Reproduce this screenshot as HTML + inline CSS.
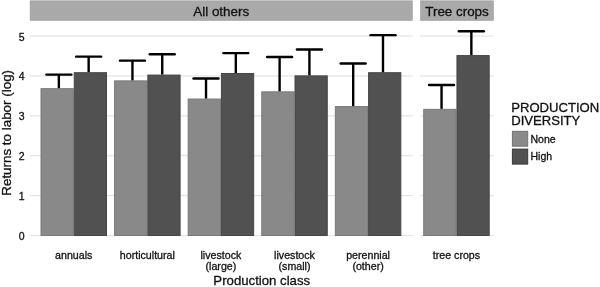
<!DOCTYPE html><html><head><meta charset="utf-8"><style>html,body{margin:0;padding:0;background:#fff;width:600px;height:287px;overflow:hidden}svg{display:block;will-change:transform}text{font-family:"Liberation Sans",sans-serif;fill:#111;stroke:#111;stroke-width:0.3}</style></head><body>
<svg width="600" height="287" viewBox="0 0 600 287">
<rect x="30.10" y="0.8" width="382.20" height="19.6" fill="#a9a9a9" stroke="#9c9c9c" stroke-width="0.6"/>
<rect x="420.60" y="0.8" width="72.80" height="19.6" fill="#a9a9a9" stroke="#9c9c9c" stroke-width="0.6"/>
<text x="221.20" y="15.8" font-size="13.4" text-anchor="middle">All others</text>
<text x="457.00" y="15.8" font-size="13.4" text-anchor="middle">Tree crops</text>
<rect x="29.8" y="234.90" width="382.80" height="1.2" fill="#e4e4e4"/>
<rect x="420.3" y="234.90" width="73.40" height="1.2" fill="#e4e4e4"/>
<rect x="29.8" y="195.01" width="382.80" height="1.2" fill="#e4e4e4"/>
<rect x="420.3" y="195.01" width="73.40" height="1.2" fill="#e4e4e4"/>
<rect x="29.8" y="155.12" width="382.80" height="1.2" fill="#e4e4e4"/>
<rect x="420.3" y="155.12" width="73.40" height="1.2" fill="#e4e4e4"/>
<rect x="29.8" y="115.23" width="382.80" height="1.2" fill="#e4e4e4"/>
<rect x="420.3" y="115.23" width="73.40" height="1.2" fill="#e4e4e4"/>
<rect x="29.8" y="75.34" width="382.80" height="1.2" fill="#e4e4e4"/>
<rect x="420.3" y="75.34" width="73.40" height="1.2" fill="#e4e4e4"/>
<rect x="29.8" y="35.45" width="382.80" height="1.2" fill="#e4e4e4"/>
<rect x="420.3" y="35.45" width="73.40" height="1.2" fill="#e4e4e4"/>
<rect x="41.00" y="88.65" width="32.25" height="146.85" fill="#898989" stroke="#7a7a7a" stroke-width="1"/>
<rect x="74.25" y="72.69" width="32.25" height="162.81" fill="#515151" stroke="#464646" stroke-width="1"/>
<rect x="114.59" y="80.87" width="32.25" height="154.63" fill="#898989" stroke="#7a7a7a" stroke-width="1"/>
<rect x="147.84" y="75.08" width="32.25" height="160.42" fill="#515151" stroke="#464646" stroke-width="1"/>
<rect x="188.17" y="99.02" width="32.25" height="136.48" fill="#898989" stroke="#7a7a7a" stroke-width="1"/>
<rect x="221.42" y="73.49" width="32.25" height="162.01" fill="#515151" stroke="#464646" stroke-width="1"/>
<rect x="261.76" y="91.84" width="32.25" height="143.66" fill="#898989" stroke="#7a7a7a" stroke-width="1"/>
<rect x="295.01" y="75.88" width="32.25" height="159.62" fill="#515151" stroke="#464646" stroke-width="1"/>
<rect x="335.34" y="106.56" width="32.25" height="128.94" fill="#898989" stroke="#7a7a7a" stroke-width="1"/>
<rect x="368.59" y="72.69" width="32.25" height="162.81" fill="#515151" stroke="#464646" stroke-width="1"/>
<rect x="423.70" y="109.35" width="32.25" height="126.15" fill="#898989" stroke="#7a7a7a" stroke-width="1"/>
<rect x="456.95" y="55.58" width="32.25" height="179.92" fill="#515151" stroke="#464646" stroke-width="1"/>
<path d="M46.35 74.58H71.35" stroke="#000" stroke-width="2.4" stroke-linecap="round" fill="none"/><path d="M58.85 74.58V88.15" stroke="#000" stroke-width="2.4" fill="none"/>
<path d="M76.15 56.67H101.15" stroke="#000" stroke-width="2.4" stroke-linecap="round" fill="none"/><path d="M88.65 56.67V72.19" stroke="#000" stroke-width="2.4" fill="none"/>
<path d="M119.94 60.66H144.94" stroke="#000" stroke-width="2.4" stroke-linecap="round" fill="none"/><path d="M132.44 60.66V80.37" stroke="#000" stroke-width="2.4" fill="none"/>
<path d="M149.74 54.28H174.74" stroke="#000" stroke-width="2.4" stroke-linecap="round" fill="none"/><path d="M162.24 54.28V74.58" stroke="#000" stroke-width="2.4" fill="none"/>
<path d="M193.52 78.57H218.52" stroke="#000" stroke-width="2.4" stroke-linecap="round" fill="none"/><path d="M206.02 78.57V98.52" stroke="#000" stroke-width="2.4" fill="none"/>
<path d="M223.32 53.08H248.32" stroke="#000" stroke-width="2.4" stroke-linecap="round" fill="none"/><path d="M235.82 53.08V72.99" stroke="#000" stroke-width="2.4" fill="none"/>
<path d="M267.11 57.07H292.11" stroke="#000" stroke-width="2.4" stroke-linecap="round" fill="none"/><path d="M279.61 57.07V91.34" stroke="#000" stroke-width="2.4" fill="none"/>
<path d="M296.91 49.49H321.91" stroke="#000" stroke-width="2.4" stroke-linecap="round" fill="none"/><path d="M309.41 49.49V75.38" stroke="#000" stroke-width="2.4" fill="none"/>
<path d="M340.69 63.45H365.69" stroke="#000" stroke-width="2.4" stroke-linecap="round" fill="none"/><path d="M353.19 63.45V106.06" stroke="#000" stroke-width="2.4" fill="none"/>
<path d="M370.49 35.17H395.49" stroke="#000" stroke-width="2.4" stroke-linecap="round" fill="none"/><path d="M382.99 35.17V72.19" stroke="#000" stroke-width="2.4" fill="none"/>
<path d="M429.05 84.96H454.05" stroke="#000" stroke-width="2.4" stroke-linecap="round" fill="none"/><path d="M441.55 84.96V108.85" stroke="#000" stroke-width="2.4" fill="none"/>
<path d="M458.85 31.18H483.85" stroke="#000" stroke-width="2.4" stroke-linecap="round" fill="none"/><path d="M471.35 31.18V55.08" stroke="#000" stroke-width="2.4" fill="none"/>
<text x="24.5" y="240.00" font-size="10.5" text-anchor="end">0</text>
<text x="24.5" y="200.11" font-size="10.5" text-anchor="end">1</text>
<text x="24.5" y="160.22" font-size="10.5" text-anchor="end">2</text>
<text x="24.5" y="120.33" font-size="10.5" text-anchor="end">3</text>
<text x="24.5" y="80.44" font-size="10.5" text-anchor="end">4</text>
<text x="24.5" y="40.55" font-size="10.5" text-anchor="end">5</text>
<text transform="translate(10.5 132.85) rotate(-90)" font-size="13.4" text-anchor="middle">Returns to labor (log)</text>
<text x="73.75" y="258.80" font-size="10.65" text-anchor="middle">annuals</text>
<text x="147.34" y="258.80" font-size="10.65" text-anchor="middle">horticultural</text>
<text x="220.92" y="258.80" font-size="10.65" text-anchor="middle">livestock</text>
<text x="220.92" y="270.30" font-size="10.65" text-anchor="middle">(large)</text>
<text x="294.51" y="258.80" font-size="10.65" text-anchor="middle">livestock</text>
<text x="294.51" y="270.30" font-size="10.65" text-anchor="middle">(small)</text>
<text x="368.09" y="258.80" font-size="10.65" text-anchor="middle">perennial</text>
<text x="368.09" y="270.30" font-size="10.65" text-anchor="middle">(other)</text>
<text x="456.45" y="258.80" font-size="10.65" text-anchor="middle">tree crops</text>
<text x="261.75" y="285" font-size="13.2" text-anchor="middle">Production class</text>
<text x="511.2" y="111.8" font-size="13.1">PRODUCTION</text>
<text x="511.2" y="125.1" font-size="13.1">DIVERSITY</text>
<rect x="512.4" y="131.3" width="15.3" height="14.9" fill="#898989" stroke="#727272" stroke-width="1"/>
<rect x="512.4" y="149.1" width="15.3" height="15.0" fill="#515151" stroke="#3a3a3a" stroke-width="1"/>
<text x="530.5" y="142.8" font-size="10.5">None</text>
<text x="530.5" y="160.0" font-size="10.5">High</text>
</svg></body></html>
